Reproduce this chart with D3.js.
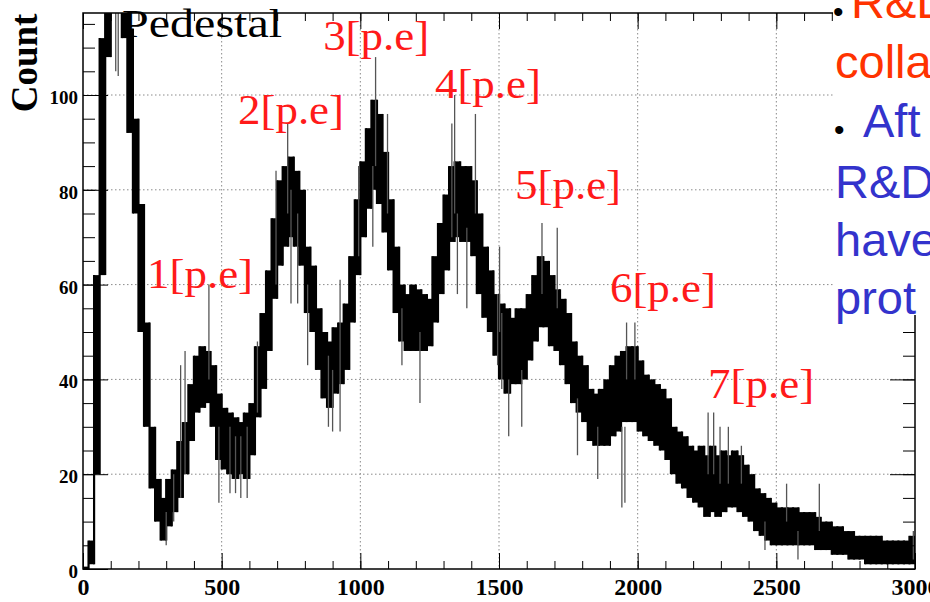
<!DOCTYPE html>
<html>
<head>
<meta charset="utf-8">
<script src="https://cdn.jsdelivr.net/npm/d3@7"></script>
<style>
  body { margin: 0; background: #fff; }
  svg { display: block; }
</style>
</head>
<body>
<script>
// bins of 20 ADC channels, low / high edge of the black band
const binWidth = 20;
const binStart = d3.range(0, 3000, binWidth);

const countLow = [
  0, 1, 20, 62, 108, 120, 120, 112, 92, 75,
  50, 30, 17, 10, 6, 9, 12, 15, 20, 27,
  33, 34, 35, 30, 23, 21, 20, 19, 20, 19,
  24, 32, 38, 46, 57, 64, 68, 70, 68, 64,
  54, 50, 42, 36, 34, 37, 39, 42, 52, 62,
  70, 76, 80, 77, 71, 63, 54, 48, 46, 46,
  46, 46, 47, 52, 58, 63, 69, 70, 69, 69,
  66, 58, 53, 50, 45, 40, 37, 39, 39, 40,
  44, 48, 51, 51, 47, 46, 43, 39, 35, 33,
  31, 27, 26, 26, 26, 28, 29, 31, 31, 31,
  29, 28, 27, 26, 25, 23, 20, 18, 17, 15,
  14, 13, 11, 12, 11, 12, 13, 13, 12, 11,
  10, 8, 7, 6, 5, 5, 5, 5, 5, 5,
  5, 5, 4, 4, 4, 3, 3, 3, 2, 2,
  2, 1, 1, 1, 1, 1, 1, 1, 1, 1
];

const countHigh = [
  0.5, 6, 62, 112, 130, 130, 130, 130, 114, 95,
  77, 52, 30, 19, 15, 19, 21, 27, 31, 39,
  45, 47, 46, 43, 37, 34, 33, 32, 31, 33,
  35, 47, 54, 63, 74, 82, 85, 87, 84, 80,
  68, 64, 55, 50, 48, 51, 52, 56, 66, 78,
  86, 93, 99, 96, 88, 78, 68, 60, 58, 60,
  59, 58, 57, 66, 73, 79, 85, 86, 85, 85,
  82, 75, 68, 63, 58, 56, 55, 53, 55, 55,
  58, 62, 66, 65, 62, 59, 57, 54, 48, 45,
  43, 38, 37, 38, 40, 43, 45, 46, 47, 47,
  44, 41, 40, 39, 38, 36, 30, 29, 28, 26,
  25, 26, 24, 26, 24, 25, 24, 25, 24, 22,
  20, 17, 16, 15, 14, 13, 13, 13, 13, 12,
  12, 12, 11, 10, 10, 9, 9, 8, 8, 7,
  7, 7, 7, 7, 6, 6, 6, 6, 6, 7
];

// single channels that stick out of the band (thin grey lines)
const spikeAdc  = [118, 127, 300, 327, 352, 368, 454, 490, 530, 550, 569, 592, 629, 696, 738, 750, 774, 810, 885, 900,
                   927, 994, 1045, 1055, 1098, 1150, 1215, 1330, 1340, 1350, 1384, 1415, 1495, 1502, 1510, 1535, 1582, 1655, 1710, 1783,
                   1856, 1943, 1954, 1960, 1990, 2254, 2274, 2297, 2327, 2374, 2459, 2537, 2578, 2655, 2994];
const spikeLow  = [105, 104, 5, 10, 15, 20, 40, 14, 16, 16, 15, 15, 33, 60, 75, 56, 56, 43, 30, 29,
                   29, 66, 68, 85, 75, 43, 35, 70, 75, 58, 55, 75, 43, 50, 38, 28, 30, 58, 55, 24,
                   19, 13, 14, 40, 40, 20, 20, 18, 18, 18, 4, 10, 2, 8, 2];
const spikeHigh = [118, 118, 12, 20, 43, 46, 60, 30, 30, 28, 28, 30, 48, 84, 94, 80, 75, 60, 45, 42,
                   61, 85, 85, 108, 96, 55, 50, 94, 100, 75, 72, 96, 58, 68, 54, 40, 42, 73, 72, 36,
                   30, 30, 30, 52, 52, 33, 33, 30, 30, 26, 10, 18, 8, 18, 8];

// photo-electron peak labels (left edge ADC, baseline count)
const peakLabels = ["1[p.e]", "2[p.e]", "3[p.e]", "4[p.e]", "5[p.e]", "6[p.e]", "7[p.e]"];
const peakLabelAdc = [231, 559, 866, 1269, 1558, 1900, 2254];
const peakLabelCount = [59.2, 93.8, 109.4, 99.3, 78.0, 56.3, 36.0];

const xMajor = [0, 500, 1000, 1500, 2000, 2500, 3000];
const yMajor = [0, 20, 40, 60, 80, 100];
const xMinor = d3.range(0, 3001, 100);
const yMinor = d3.range(0, 117, 5);

// slide text that covers the right side
const slideRed = ["R&D", "colla"];
const slideBlue = ["Aft", "R&D", "have", "prot"];

const W = 930, H = 602;
const padL = 83, padR = 915, padT = 13, padB = 569;

const svg = d3.select('body').append('svg')
  .attr('width', W)
  .attr('height', H);

const x = d3.scaleLinear().domain([0, 3000]).range([padL, padR]);
const y = d3.scaleLinear().domain([0, 117.3]).range([padB, padT]);

svg.append('defs').append('clipPath').attr('id', 'plot')
  .append('rect')
  .attr('x', padL).attr('y', padT)
  .attr('width', padR - padL).attr('height', padB - padT);

// dotted grid
const grid = svg.append('g').attr('stroke', '#8a8a8a').attr('stroke-width', 1).attr('stroke-dasharray', '1.5,2.5');
grid.selectAll('line.gx').data(xMajor.slice(1, -1)).enter().append('line')
  .attr('x1', d => x(d)).attr('x2', d => x(d))
  .attr('y1', padT).attr('y2', padB);
grid.selectAll('line.gy').data(yMajor.slice(1)).enter().append('line')
  .attr('x1', padL).attr('x2', padR)
  .attr('y1', d => y(d)).attr('y2', d => y(d));

// histogram band
const bins = binStart.map((x0, i) => ({ x0: x0, x1: x0 + binWidth, lo: countLow[i], hi: countHigh[i] }));
const hist = svg.append('g').attr('clip-path', 'url(#plot)');

hist.selectAll('rect').data(bins).enter().append('rect')
  .attr('x', d => x(d.x0))
  .attr('width', d => x(d.x1) - x(d.x0) + 0.4)
  .attr('y', d => y(d.hi))
  .attr('height', d => Math.max(1.5, y(d.lo) - y(d.hi)))
  .attr('fill', '#000');

// vertical joins between neighbouring bins
hist.selectAll('line.join').data(bins.slice(1)).enter().append('line')
  .attr('x1', d => x(d.x0)).attr('x2', d => x(d.x0))
  .attr('y1', (d, i) => y(Math.max(d.hi, bins[i].hi)))
  .attr('y2', (d, i) => y(Math.min(d.lo, bins[i].lo)))
  .attr('stroke', '#000')
  .attr('stroke-width', 2.2);

hist.selectAll('line.spike').data(spikeAdc).enter().append('line')
  .attr('x1', d => x(d)).attr('x2', d => x(d))
  .attr('y1', (d, i) => y(spikeHigh[i]))
  .attr('y2', (d, i) => y(spikeLow[i]))
  .attr('stroke', '#555')
  .attr('stroke-width', 1.3);

// axes, ROOT style ticks pointing inwards
function clean(g) { g.select('.domain').remove(); g.selectAll('line').attr('stroke', '#000'); }

svg.append('g').attr('transform', `translate(0,${padB})`)
  .call(d3.axisBottom(x).tickValues(xMinor).tickSize(-8).tickFormat(''))
  .call(clean);
svg.append('g').attr('transform', `translate(0,${padB})`)
  .call(d3.axisBottom(x).tickValues(xMajor).tickSize(-16).tickPadding(9).tickFormat(d3.format('d')))
  .call(clean)
  .call(g => g.selectAll('text')
    .attr('font-family', '"Liberation Serif", "Times New Roman", serif')
    .attr('font-weight', 'bold').attr('font-size', 24).attr('fill', '#000'));

svg.append('g').attr('transform', `translate(0,${padT})`)
  .call(d3.axisTop(x).tickValues(xMinor).tickSize(-8).tickFormat(''))
  .call(clean);
svg.append('g').attr('transform', `translate(0,${padT})`)
  .call(d3.axisTop(x).tickValues(xMajor).tickSize(-16).tickFormat(''))
  .call(clean);

svg.append('g').attr('transform', `translate(${padL},0)`)
  .call(d3.axisLeft(y).tickValues(yMinor).tickSize(-12).tickFormat(''))
  .call(clean);
svg.append('g').attr('transform', `translate(${padL},0)`)
  .call(d3.axisLeft(y).tickValues(yMajor).tickSize(-25).tickPadding(5).tickFormat(d3.format('d')))
  .call(clean)
  .call(g => g.selectAll('text')
    .attr('font-family', '"Liberation Serif", "Times New Roman", serif')
    .attr('font-weight', 'bold').attr('font-size', 19).attr('fill', '#000')
    .attr('dy', '0.45em'));

svg.append('g').attr('transform', `translate(${padR},0)`)
  .call(d3.axisRight(y).tickValues(yMinor).tickSize(-12).tickFormat(''))
  .call(clean);
svg.append('g').attr('transform', `translate(${padR},0)`)
  .call(d3.axisRight(y).tickValues(yMajor).tickSize(-25).tickFormat(''))
  .call(clean);

// frame
svg.append('rect')
  .attr('x', padL).attr('y', padT)
  .attr('width', padR - padL).attr('height', padB - padT)
  .attr('fill', 'none').attr('stroke', '#000').attr('stroke-width', 1.5);

// y title
svg.append('text')
  .attr('transform', 'translate(37,63) rotate(-90)')
  .attr('text-anchor', 'middle')
  .attr('font-family', '"Liberation Serif", "Times New Roman", serif')
  .attr('font-weight', 'bold')
  .attr('font-size', 37)
  .text('Count');

// labels inside the plot
svg.append('text')
  .attr('x', x(141)).attr('y', y(112.2))
  .attr('font-family', '"Liberation Serif", "Times New Roman", serif')
  .attr('font-size', 41)
  .attr('textLength', 160).attr('lengthAdjust', 'spacingAndGlyphs')
  .text('Pedestal');

svg.selectAll('text.peak').data(peakLabels).enter().append('text')
  .attr('class', 'peak')
  .attr('x', (d, i) => x(peakLabelAdc[i]))
  .attr('y', (d, i) => y(peakLabelCount[i]))
  .attr('font-family', '"Liberation Serif", "Times New Roman", serif')
  .attr('font-size', 43)
  .attr('textLength', 106).attr('lengthAdjust', 'spacingAndGlyphs')
  .attr('fill', '#ff1a1a')
  .text(d => d);

// slide text box on the right
svg.append('rect').attr('x', 833).attr('y', 0).attr('width', W - 833).attr('height', 315).attr('fill', '#fff');

const slide = svg.append('g')
  .attr('font-family', '"Liberation Sans", Arial, sans-serif')
  .attr('font-size', 47);

slide.append('text').attr('x', 833).attr('y', 22).attr('font-size', 30).attr('fill', '#000').text('•');
slide.append('text').attr('x', 851).attr('y', 18).attr('fill', '#ff3300').text(slideRed[0]);
slide.append('text').attr('x', 835).attr('y', 78).attr('fill', '#ff3300').text(slideRed[1]);

slide.append('text').attr('x', 834).attr('y', 140).attr('font-size', 30).attr('fill', '#000').text('•');
slide.append('text').attr('x', 863).attr('y', 137).attr('fill', '#3333cc').text(slideBlue[0]);
slide.selectAll('text.blue').data(slideBlue.slice(1)).enter().append('text')
  .attr('class', 'blue')
  .attr('x', 835)
  .attr('y', (d, i) => 198 + i * 58)
  .attr('fill', '#3333cc')
  .text(d => d);
</script>
</body>
</html>
